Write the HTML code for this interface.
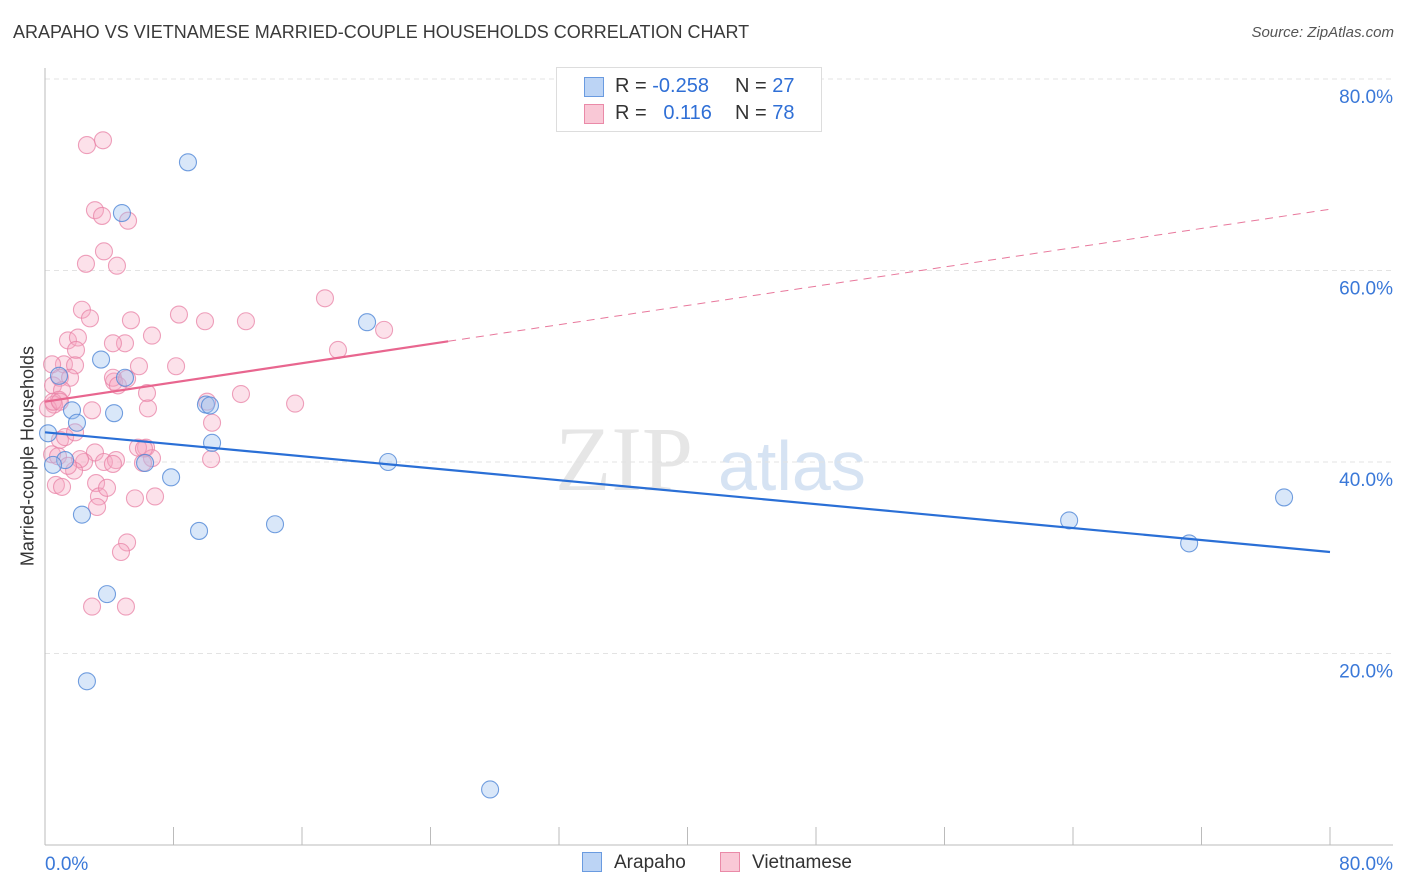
<!DOCTYPE html>
<html><head><meta charset="utf-8">
<style>
body{margin:0;background:#fff;font-family:"Liberation Sans",sans-serif;}
#wrap{position:relative;width:1406px;height:892px;overflow:hidden;}
.t{position:absolute;white-space:nowrap;}
</style></head>
<body>
<div id="wrap">
<div class="t" style="left:13px;top:22px;font-size:18px;color:#3a3a3a;">ARAPAHO VS VIETNAMESE MARRIED-COUPLE HOUSEHOLDS CORRELATION CHART</div>
<div class="t" style="right:12px;top:24px;font-size:15px;color:#555;font-style:italic;">Source: ZipAtlas.com</div>
<svg id="svg" width="1406" height="892" style="position:absolute;left:0;top:0"></svg>
<div class="t" style="left:28px;top:456px;font-size:18px;color:#333;transform:translate(-50%,-50%) rotate(-90deg);">Married-couple Households</div>
<div style="position:absolute;left:556px;top:67px;width:264px;height:63px;border:1px solid #ddd;background:#fff;font-size:20px;color:#333;">
 <div style="position:absolute;left:27px;top:9px;width:18px;height:18px;background:#bcd4f5;border:1px solid #6a9be0;"></div>
 <div class="t" style="left:58px;top:7px;">R = <span style="color:#2f6fd6">-0.258</span></div>
 <div class="t" style="left:178px;top:7px;">N = <span style="color:#2f6fd6">27</span></div>
 <div style="position:absolute;left:27px;top:36px;width:18px;height:18px;background:#f9c8d6;border:1px solid #ea8aa8;"></div>
 <div class="t" style="left:58px;top:34px;">R = &nbsp;&nbsp;<span style="color:#2f6fd6">0.116</span></div>
 <div class="t" style="left:178px;top:34px;">N = <span style="color:#2f6fd6">78</span></div>
</div>
<div style="position:absolute;left:582px;top:852px;font-size:19px;color:#333;">
 <span style="position:absolute;left:0;top:0;width:18px;height:18px;background:#bcd4f5;border:1px solid #6a9be0;"></span>
 <span class="t" style="left:32px;top:0">Arapaho</span>
 <span style="position:absolute;left:138px;top:0;width:18px;height:18px;background:#f9c8d6;border:1px solid #ea8aa8;"></span>
 <span class="t" style="left:170px;top:0">Vietnamese</span>
</div>
</div>
<script>
const xTicks=[0,8,16,24,32,40,48,56,64,72,80];
const yTicks=[20,40,60,80];
const araX=[8.90,4.79,20.05,3.49,4.98,0.87,4.30,10.02,10.27,1.68,1.99,0.19,10.40,1.25,0.50,6.23,21.36,7.85,2.30,9.59,14.32,3.86,2.61,27.71,63.76,71.23,77.14];
const araY=[71.3,66.0,54.6,50.7,48.8,49.0,45.1,46.0,45.9,45.4,44.1,43.0,42.0,40.2,39.7,39.9,40.0,38.4,34.5,32.8,33.5,26.2,17.1,5.8,33.9,31.5,36.3];
const vietPx=[[87,145],[103,140],[95,210],[102,216],[128,221],[86,264],[104,251],[117,266],[82,310],[90,318],[131,320],[179,315],[205,321],[246,321],[325,298],[384,330],[152,336],[125,343],[68,340],[78,338],[76,350],[113,343],[139,366],[176,366],[64,364],[75,365],[52,364],[53,385],[60,378],[70,378],[62,390],[59,400],[54,405],[48,408],[53,402],[60,402],[114,382],[113,378],[118,385],[127,379],[147,393],[207,402],[241,394],[338,350],[295,404],[148,408],[92,410],[212,423],[146,448],[152,458],[60,440],[65,437],[75,432],[95,452],[84,462],[80,459],[74,471],[52,454],[58,456],[68,466],[56,485],[62,487],[104,462],[116,460],[113,464],[138,448],[144,449],[143,463],[211,459],[96,483],[99,496],[107,488],[135,498],[155,496],[97,507],[127,542],[121,552],[92,607],[126,607]];
const vietX=vietPx.map(p=>+((p[0]-45)*0.06226).toFixed(2));
const vietY=vietPx.map(p=>+((845-p[1])*0.10444).toFixed(1));
const araTrend=[43.1,30.6];
const vietTrend=[46.3,66.4];
const vietSolidEnd=25.1;

const X0=45,X1=1330,Y0=845,Y80=79;
const sx=v=>X0+(X1-X0)*v/80;
const sy=v=>Y0-(Y0-Y80)*v/80;
const svg=document.getElementById('svg');
const NS='http://www.w3.org/2000/svg';
function mk(tag,attrs,name){const e=document.createElementNS(NS,tag);for(const k in attrs)e.setAttribute(k,attrs[k]);


svg.appendChild(e);return e;}
let w=mk('text',{x:555,y:490,'font-size':92,'font-family':'Liberation Serif,serif',fill:'#e6e6e6'},'watermark-zip');w.textContent='ZIP';
w=mk('text',{x:718,y:490,'font-size':70,'font-family':'Liberation Sans,sans-serif',fill:'#d6e3f3'},'watermark-atlas');w.textContent='atlas';
yTicks.forEach(t=>{
 mk('line',{x1:X0,x2:1393,y1:sy(t),y2:sy(t),stroke:'#e3e3e3','stroke-dasharray':'5,4'},'gridline');
 const l=mk('text',{x:1393,y:sy(t)+24,'text-anchor':'end','font-size':19,fill:'#3a78d8','font-family':'Liberation Sans,sans-serif'},'y-tick-label');l.textContent=t.toFixed(1)+'%';
});
mk('line',{x1:X0,x2:X0,y1:68,y2:Y0,stroke:'#bbb'},'y-axis');
mk('line',{x1:X0,x2:1393,y1:Y0,y2:Y0,stroke:'#bbb'},'x-axis');
xTicks.forEach(t=>mk('line',{x1:sx(t),x2:sx(t),y1:Y0,y2:Y0-18,stroke:'#bbb'},'x-tick'));
let l=mk('text',{x:45,y:870,'font-size':19,fill:'#3a78d8','font-family':'Liberation Sans,sans-serif'},'x-tick-label');l.textContent='0.0%';
l=mk('text',{x:1393,y:870,'text-anchor':'end','font-size':19,fill:'#3a78d8','font-family':'Liberation Sans,sans-serif'},'x-tick-label');l.textContent='80.0%';
vietX.forEach((x,i)=>mk('circle',{cx:sx(x),cy:sy(vietY[i]),r:8.5,fill:'rgba(246,170,195,0.35)',stroke:'rgba(232,130,165,0.75)','stroke-width':1.1},'vietnamese-point'));
araX.forEach((x,i)=>mk('circle',{cx:sx(x),cy:sy(araY[i]),r:8.5,fill:'rgba(160,195,240,0.4)',stroke:'rgba(80,135,215,0.8)','stroke-width':1.1},'arapaho-point'));
const vy=x=>vietTrend[0]+(vietTrend[1]-vietTrend[0])*x/80;
mk('line',{x1:sx(vietSolidEnd),y1:sy(vy(vietSolidEnd)),x2:sx(80),y2:sy(vietTrend[1]),stroke:'#e8789c','stroke-width':1,'stroke-dasharray':'8,6'},'vietnamese-trend-dashed');
mk('line',{x1:sx(0),y1:sy(vietTrend[0]),x2:sx(vietSolidEnd),y2:sy(vy(vietSolidEnd)),stroke:'#e8668f','stroke-width':2.2},'vietnamese-trend-line');
mk('line',{x1:sx(0),y1:sy(araTrend[0]),x2:sx(80),y2:sy(araTrend[1]),stroke:'#2a6fd6','stroke-width':2.2},'arapaho-trend-line');
</script>
</body></html>
